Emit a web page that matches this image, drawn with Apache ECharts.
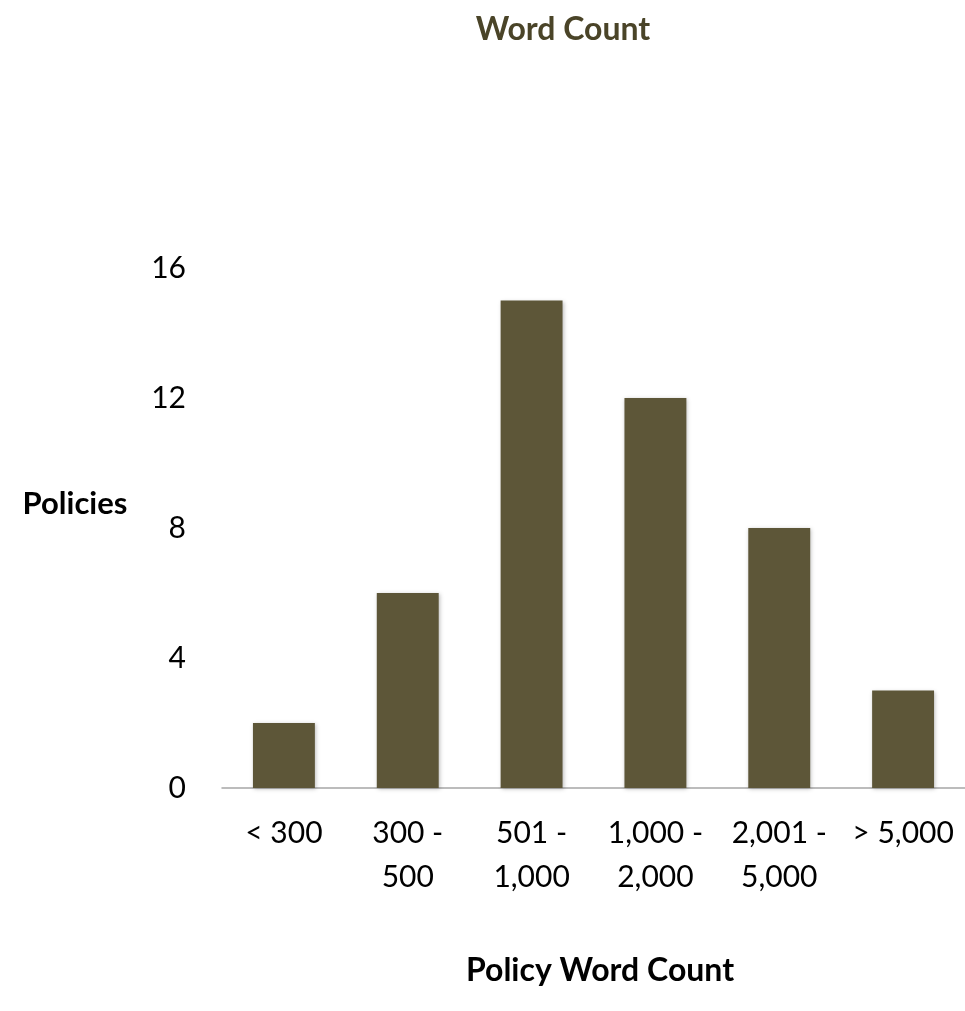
<!DOCTYPE html>
<html>
<head>
<meta charset="utf-8">
<script src="https://cdn.jsdelivr.net/npm/echarts@6/dist/echarts.min.js"></script>
<style>
  html, body { margin: 0; padding: 0; background: #ffffff; }
  #chart { width: 965px; height: 1011px; }
</style>
</head>
<body>
<div id="chart"></div>
<script>
// Word-count buckets and the number of policies in each
const categories = ['< 300', '300 - 500', '501 - 1,000', '1,000 - 2,000', '2,001 - 5,000', '> 5,000'];
const policyCounts = [2, 6, 15, 12, 8, 3];
const yTicks = { min: 0, max: 16, interval: 4 };

const FONT = 'Lato, "Open Sans", sans-serif';
const chart = echarts.init(document.getElementById('chart'), null, { renderer: 'canvas' });

chart.setOption({
  backgroundColor: '#ffffff',
  animation: false,
  title: [
    {
      text: 'Word Count',
      left: 558, top: 9, textAlign: 'center',
      textStyle: { fontFamily: FONT, fontSize: 32, fontWeight: 'bold', color: '#4a4428' }
    },
    {
      text: 'Policies',
      left: 70, top: 483, textAlign: 'center',
      textStyle: { fontFamily: FONT, fontSize: 31, fontWeight: 'bold', color: '#000000' }
    },
    {
      text: 'Policy Word Count',
      left: 595, top: 950, textAlign: 'center',
      textStyle: { fontFamily: FONT, fontSize: 32, fontWeight: 'bold', color: '#000000' }
    }
  ],
  grid: { left: 222, right: 0, top: 268, bottom: 223, containLabel: false },
  xAxis: {
    type: 'category',
    data: categories,
    axisLine: { show: true, lineStyle: { color: '#a6a6a6', width: 1.5 } },
    axisTick: { show: false },
    axisLabel: {
      interval: 0,
      margin: 23,
      fontFamily: FONT,
      fontSize: 30,
      lineHeight: 44,
      color: '#000000',
      formatter: v => v.replace(' - ', ' -\n')
    },
    splitLine: { show: false }
  },
  yAxis: {
    type: 'value',
    min: yTicks.min,
    max: yTicks.max,
    interval: yTicks.interval,
    axisLine: { show: false },
    axisTick: { show: false },
    splitLine: { show: false },
    axisLabel: { margin: 36, fontFamily: FONT, fontSize: 30, color: '#000000' }
  },
  series: [{
    type: 'bar',
    data: policyCounts,
    barWidth: '50%',
    itemStyle: {
      color: '#5d5638',
      shadowColor: 'rgba(0,0,0,0.25)',
      shadowBlur: 4,
      shadowOffsetX: 1,
      shadowOffsetY: 1
    }
  }]
});
</script>
</body>
</html>
